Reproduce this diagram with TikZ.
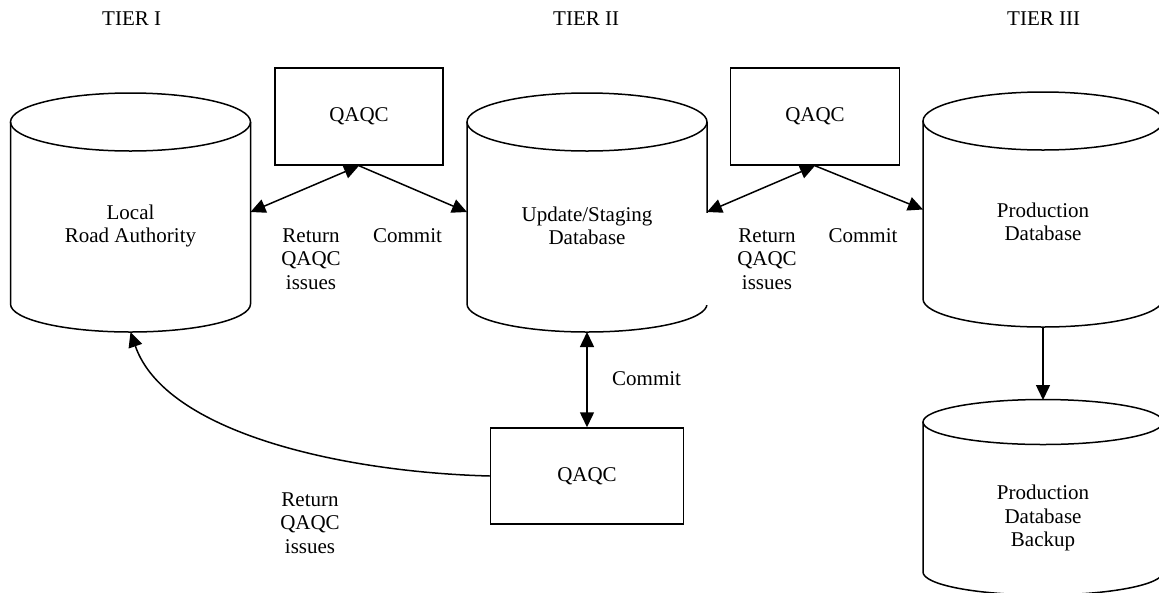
\documentclass[tikz,border=0pt]{standalone}
\usepackage{fontspec}
\setmainfont{Liberation Serif}
\usetikzlibrary{arrows.meta}

% database drum: centre x, top-ellipse y, bottom-ellipse y, top radius, bottom radius
\newcommand\dbdrum[5]{%
  \draw[outline] (#1,#2) ellipse[x radius=120, y radius=#4];
  \draw[outline] (#1-120,#2) -- (#1-120,#3)
    arc[start angle=180, end angle=0, x radius=120, y radius=#5] -- (#1+120,#2);
}

\tikzset{
  outline/.style={line width=1.5pt},
  body/.style={inner sep=0pt, outer sep=0pt, minimum width=240},
  qbox/.style={draw, line width=1.5pt, inner sep=0pt, minimum height=96},
  lbl/.style={align=center, inner sep=0pt},
  flow/.style={line width=1.5pt, -{Triangle[length=15pt,width=14pt]}},
  twoway/.style={line width=1.5pt, {Triangle[length=15pt,width=14pt]}-{Triangle[length=15pt,width=14pt]}},
}

\begin{document}
\begin{tikzpicture}[x=1pt, y=-1pt, font=\fontsize{21}{23.5}\selectfont]
\useasboundingbox (0,0) rectangle (1159,592);
\clip (0,0) rectangle (1159,592);

% tier headings
\node[lbl, anchor=base west] (t1) at (102,25) {TIER I};
\node[lbl, anchor=base west] (t2) at (553,25) {TIER II};
\node[lbl, anchor=base west] (t3) at (1007,25) {TIER III};

% databases
\dbdrum{130.5}{122}{304}{29}{28}
\node[body, minimum height=240] (c1) at (130.5,212) {};
\node[lbl] (c1t) at (130.5,226) {Local\\Road Authority};

\dbdrum{587}{122}{304}{29}{28}
\node[body, minimum height=240] (c2) at (587,212) {};
\node[lbl] (c2t) at (587,226) {Update/Staging\\Database};

\dbdrum{1043}{121}{299}{29}{28}
\node[body, minimum height=235] (c3) at (1043,209.5) {};
\node[lbl] (c3t) at (1043,222) {Production\\Database};

\dbdrum{1043}{422}{572}{22.5}{23}
\node[body, minimum height=195] (bk) at (1043,497.5) {};
\node[lbl] (bkt) at (1043,518) {Production\\Database\\Backup};

% quality checks
\node[qbox, minimum width=168, minimum height=97] (q1) at (359,116.5) {QAQC};
\node[qbox, minimum width=169, minimum height=97] (q2) at (815,116.5) {QAQC};
\node[qbox, minimum width=193] (q3) at (587,476) {QAQC};

% connectors
\draw[twoway] (c1.east) -- (q1.south);
\draw[flow] (q1.south) -- (c2.west);
\draw[twoway] (c2.east) -- (q2.south);
\draw[flow] (q2.south) -- (c3.west);
\draw[flow] (c3.south) -- (bk.north);
\draw[twoway] (c2.south) -- (q3.north);
\draw[flow] (q3.west) .. controls (340,472) and (165,432) .. (c1.south);

% connector labels
\node[lbl] (r1) at (311,259) {Return\\QAQC\\issues};
\node[lbl, anchor=base] (m1) at (407.5,242) {Commit};
\node[lbl, fill=white, minimum width=126, minimum height=92] (r2) at (767,259) {Return\\QAQC\\issues};
\node[lbl, anchor=base] (m2) at (863,242) {Commit};
\node[lbl, anchor=west] (m3) at (612,379) {Commit};
\node[lbl] (r3) at (310,523) {Return\\QAQC\\issues};
\end{tikzpicture}
\end{document}
